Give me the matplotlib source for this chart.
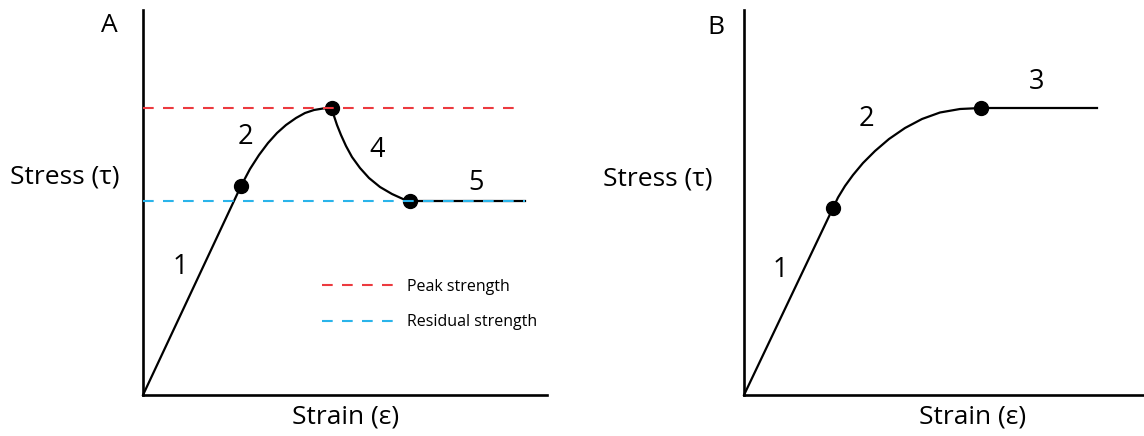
import matplotlib
matplotlib.use('Agg')
import matplotlib.pyplot as plt

plt.rcParams['font.family'] = ['Open Sans', 'DejaVu Sans']
plt.rcParams['lines.scale_dashes'] = False

# Panel A : stress-strain curve with peak and residual strength
a_curve_x = [0.00, 0.98, 1.07, 1.16, 1.25, 1.34, 1.43, 1.53, 1.62, 1.71, 1.80, 1.89,
             1.91, 1.94, 1.98, 2.03, 2.09, 2.17, 2.26, 2.37, 2.49, 2.60, 2.67, 3.82]
a_curve_y = [0.00, 2.09, 2.26, 2.40, 2.52, 2.62, 2.70, 2.77, 2.82, 2.85, 2.865, 2.87,
             2.79, 2.70, 2.60, 2.49, 2.38, 2.27, 2.17, 2.08, 2.01, 1.96, 1.94, 1.94]
a_points_x = [0.98, 1.89, 2.67]
a_points_y = [2.09, 2.87, 1.94]
peak_strength = 2.87
residual_strength = 1.94
peak_end = 3.80
residual_end = 3.82
a_labels = ['1', '2', '4', '5']

# Panel B : curve without strength loss
b_curve_x = [0.00, 0.89, 0.94, 1.01, 1.09, 1.19, 1.31, 1.45, 1.61, 1.78, 1.96, 2.16, 2.37, 3.53]
b_curve_y = [0.00, 1.87, 1.975, 2.09, 2.20, 2.32, 2.44, 2.56, 2.67, 2.76, 2.825, 2.86, 2.87, 2.87]
b_points_x = [0.89, 2.37]
b_points_y = [1.87, 2.87]
b_labels = ['1', '2', '3']

W, H = 1144, 436
RED = '#ec3a3f'
BLUE = '#2ab4ea'

fig = plt.figure(figsize=(W / 100, H / 100), dpi=100)

def px(x, y):
    # figure pixel position -> figure fraction
    return x / W, 1 - y / H

def setup(ax, xmax):
    ax.set_xlim(0, xmax)
    ax.set_ylim(0, 3.85)
    ax.set_xticks([])
    ax.set_yticks([])
    ax.spines['top'].set_visible(False)
    ax.spines['right'].set_visible(False)
    ax.spines['left'].set_linewidth(1.9)
    ax.spines['bottom'].set_linewidth(1.9)
    ax.patch.set_alpha(0)

axA = fig.add_axes([143 / W, 41 / H, 404 / W, 385 / H])
axB = fig.add_axes([744 / W, 41 / H, 400 / W, 385 / H])
setup(axA, 4.04)
setup(axB, 4.00)

# panel A
axA.plot(a_curve_x, a_curve_y, color='black', lw=1.6, clip_on=False, zorder=3,
         solid_joinstyle='round')
axA.plot(a_points_x, a_points_y, 'o', color='black', ms=10, zorder=4)
axA.plot([0, peak_end], [peak_strength] * 2, color=RED, lw=1.5, dashes=(7.7, 6.7),
         zorder=5, label='Peak strength')
axA.plot([0, residual_end], [residual_strength] * 2, color=BLUE, lw=1.5, dashes=(7.7, 6.7),
         zorder=5, label='Residual strength')
for s, (x, y) in zip(a_labels, [(0.37, 1.28), (1.02, 2.58), (2.34, 2.45), (3.33, 2.12)]):
    axA.text(x, y, s, fontsize=19.5, ha='center', va='center')

axA.legend(loc='upper left', bbox_to_anchor=px(322, 279), bbox_transform=fig.transFigure,
           frameon=False, fontsize=11.5, handlelength=4.6, handletextpad=0.7,
           labelspacing=1.2, borderpad=0, borderaxespad=0)

# panel B
axB.plot(b_curve_x, b_curve_y, color='black', lw=1.6, clip_on=False, zorder=3,
         solid_joinstyle='round')
axB.plot(b_points_x, b_points_y, 'o', color='black', ms=10, zorder=4)
for s, (x, y) in zip(b_labels, [(0.36, 1.25), (1.22, 2.76), (2.93, 3.13)]):
    axB.text(x, y, s, fontsize=19.5, ha='center', va='center')

# panel letters and axis titles
fig.text(*px(109, 26), 'A', fontsize=19, ha='center', va='center')
fig.text(*px(716, 27), 'B', fontsize=19, ha='center', va='center')
fig.text(*px(10, 177), 'Stress (τ)', fontsize=19, ha='left', va='center')
fig.text(*px(603, 179), 'Stress (τ)', fontsize=19, ha='left', va='center')
fig.text(*px(346, 417), 'Strain (ε)', fontsize=19, ha='center', va='center')
fig.text(*px(973, 417), 'Strain (ε)', fontsize=19, ha='center', va='center')

fig.savefig('out.png', dpi=100)
